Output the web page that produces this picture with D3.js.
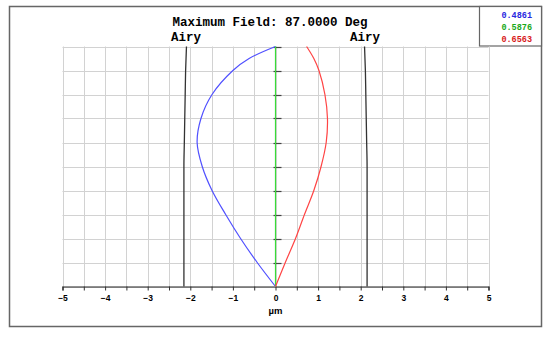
<!DOCTYPE html>
<html>
<head>
<meta charset="utf-8">
<script src="https://cdn.jsdelivr.net/npm/d3@7"></script>
<style>
  html, body { margin: 0; padding: 0; background: #fff; }
  svg { display: block; }
</style>
</head>
<body>
<svg id="chart" width="550" height="337"></svg>
<script>
// ---- data ----
const title = "Maximum Field: 87.0000 Deg";
const xTicks = [-5, -4, -3, -2, -1, 0, 1, 2, 3, 4, 5];
const xLabel = "µm";
const wavelengths = ["0.4861", "0.5876", "0.6563"];
const seriesColors = ["#5050ff", "#38dc38", "#ff4444"];
const legendColors = ["#2828e0", "#18a818", "#d81818"];
const fields = [0, 0.1, 0.2, 0.3, 0.4, 0.5, 0.6, 0.7, 0.8, 0.9, 0.95, 1.0];
const blueX  = [0, -0.43, -0.82, -1.17, -1.49, -1.72, -1.84, -1.75, -1.49, -1.00, -0.62, 0];
const greenX = [0, 0, 0, 0, 0, 0, 0, 0, 0, 0, 0, 0];
const redX   = [0, 0.23, 0.47, 0.68, 0.90, 1.07, 1.19, 1.22, 1.16, 1.02, 0.90, 0.73];
const airyFields = [0, 0.2, 0.4, 0.5, 0.6, 0.7, 0.8, 0.9, 1.0];
const airyRadius = [2.15, 2.15, 2.15, 2.15, 2.14, 2.13, 2.12, 2.11, 2.09];
const airyLabel = "Airy";

// ---- layout ----
const svg = d3.select("#chart");
const x = d3.scaleLinear().domain([-5, 5]).range([62.5, 488.5]);
const y = d3.scaleLinear().domain([0, 1]).range([286.5, 46.5]);

// outer frame
svg.append("rect").attr("x", 9.5).attr("y", 6.5).attr("width", 532).attr("height", 320)
  .attr("fill", "none").attr("stroke", "#666").attr("stroke-width", 1.5);

// legend box
svg.append("rect").attr("x", 479.5).attr("y", 6.5).attr("width", 62).attr("height", 39.5)
  .attr("fill", "#fff").attr("stroke", "#666").attr("stroke-width", 1.2);
wavelengths.forEach((w, i) => {
  svg.append("text").attr("x", 532).attr("y", 17.5 + i * 12)
    .attr("text-anchor", "end")
    .attr("font-family", "Liberation Mono, Courier New, monospace")
    .attr("font-weight", "bold").attr("font-size", 8.5)
    .attr("fill", legendColors[i]).text(w);
});

// title
svg.append("text").attr("x", 270).attr("y", 26)
  .attr("text-anchor", "middle")
  .attr("font-family", "Liberation Mono, Courier New, monospace")
  .attr("font-weight", "bold").attr("font-size", 12.5)
  .attr("fill", "#000").text(title);

// grid
const gridX = d3.range(-5, 5.001, 0.5);
const gridY = d3.range(0, 1.0001, 0.1);
const grid = svg.append("g").attr("stroke", "#d2d2d2").attr("stroke-width", 1);
grid.selectAll("line.v").data(gridX).join("line")
  .attr("x1", d => Math.round(x(d)) + 0.5).attr("x2", d => Math.round(x(d)) + 0.5)
  .attr("y1", y(1)).attr("y2", y(0));
grid.selectAll("line.h").data(gridY).join("line")
  .attr("x1", x(-5)).attr("x2", x(5))
  .attr("y1", d => Math.round(y(d)) + 0.5).attr("y2", d => Math.round(y(d)) + 0.5);

// bottom axis
const axis = d3.axisBottom(x).tickValues(gridX).tickSize(4)
  .tickFormat(d => xTicks.includes(d) ? d3.format("d")(d).replace("-", "\u2212") : "");
const ax = svg.append("g").attr("transform", `translate(0,${y(0)})`).call(axis);
ax.select(".domain").attr("stroke", "#222").attr("stroke-width", 1.2);
ax.selectAll(".tick line").attr("stroke", "#333");
ax.selectAll(".tick text").attr("font-family", "Liberation Sans, Arial, sans-serif")
  .attr("font-weight", "bold").attr("font-size", 8.5).attr("fill", "#000").attr("dy", "0.85em");

svg.append("text").attr("x", x(0)).attr("y", 314)
  .attr("text-anchor", "middle")
  .attr("font-family", "Liberation Sans, Arial, sans-serif")
  .attr("font-weight", "bold").attr("font-size", 9.5).attr("fill", "#000").text(xLabel);

// airy lines
const airyLine = d3.line().x(d => x(d[0])).y(d => y(d[1])).curve(d3.curveMonotoneY);
[-1, 1].forEach(s => {
  svg.append("path")
    .datum(airyFields.map((f, i) => [s * airyRadius[i], f]))
    .attr("d", airyLine).attr("fill", "none").attr("stroke", "#333").attr("stroke-width", 1.3);
  svg.append("text").attr("x", x(s * 2.1)).attr("y", 40.5)
    .attr("text-anchor", "middle")
    .attr("font-family", "Liberation Mono, Courier New, monospace")
    .attr("font-weight", "bold").attr("font-size", 12.5).attr("fill", "#000").text(airyLabel);
});

// y ticks along x = 0
svg.append("g").selectAll("line").data(gridY.filter(d => d > 0)).join("line")
  .attr("x1", x(0) - 2).attr("x2", x(0) + 6)
  .attr("y1", d => Math.round(y(d)) + 0.5).attr("y2", d => Math.round(y(d)) + 0.5)
  .attr("stroke", "#444").attr("stroke-width", 1.2);

// series curves
const curve = d3.line().x(d => x(d[0])).y(d => y(d[1])).curve(d3.curveCatmullRom.alpha(0.5));
[blueX, greenX, redX].forEach((arr, i) => {
  svg.append("path")
    .datum(arr.map((v, j) => [v, fields[j]]))
    .attr("d", curve).attr("fill", "none")
    .attr("stroke", seriesColors[i]).attr("stroke-width", 1.2);
});
</script>
</body>
</html>
